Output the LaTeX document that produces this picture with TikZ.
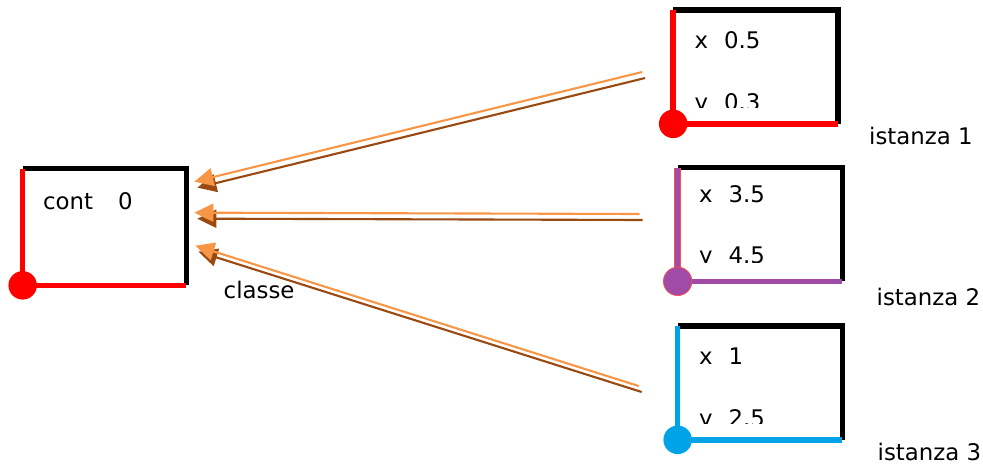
\documentclass[tikz,border=0pt]{standalone}
\usepackage{fontspec}
\setmainfont{DejaVu Sans}
\usepackage{xcolor}
\usepackage{tikz}
\usetikzlibrary{arrows.meta, positioning, calc}

\definecolor{arrowfront}{HTML}{F79646}
\definecolor{arrowshadow}{HTML}{9A4A10}
\definecolor{istred}{HTML}{FF0000}
\definecolor{istpurple}{HTML}{A04CA6}
\definecolor{istblue}{HTML}{00A3E8}

\begin{document}
\begin{tikzpicture}[x=0.02cm, y=-0.02cm,
        classbox/.style={rectangle, inner sep=0pt, minimum width=3.26cm, minimum height=2.32cm},
        istbox/.style={rectangle, inner sep=0pt, minimum width=3.28cm, minimum height=2.26cm},
        edge/.style={line width=3.1pt},
        corner/.style={circle, inner sep=0pt, minimum size=0.57cm},
        txt/.style={font=\fontsize{13}{15}\selectfont, inner sep=0pt, anchor=base west},
        link/.style={-{Triangle[length=0.38cm, width=0.36cm]}, line width=1.2pt, arrowfront},
        linkshadow/.style={link, arrowshadow, transform canvas={xshift=0.06cm, yshift=-0.12cm}}
    ]
        \useasboundingbox (0,0) rectangle (983,466);

        % Class
        \node[classbox] (cls) at (104.5,227) {};
        \draw[edge, black] (cls.north west) -- (cls.north east) -- (cls.south east);
        \draw[edge, istred] (cls.north west) -- (cls.south west) -- (cls.south east);
        \node[corner, fill=istred] (clsdot) at (cls.south west) {};
        \node[txt] (cont) at ($(cls.north west)+(20,41)$) {cont\hspace{1.1em}0};
        \node[txt] (classe) at ($(cls.south east)+(37,13)$) {classe};

        % Instance 1
        \node[istbox] (i1) at (755.5,67) {};
        \draw[edge, black] (i1.north west) -- (i1.north east) -- (i1.south east);
        \draw[edge, istred] (i1.north west) -- (i1.south west) -- (i1.south east);
        \node[corner, fill=istred] (i1dot) at (i1.south west) {};
        \node[txt] (x1) at ($(i1.north west)+(21,38)$) {x\hspace{0.7em}0.5};
        \begin{scope}
            \clip (i1.north west) rectangle ($(i1.south east)+(0,-16)$);
            \node[txt] (y1) at ($(i1.north west)+(21,100)$) {y\hspace{0.7em}0.3};
        \end{scope}
        \node[txt] (n1) at ($(i1.south east)+(31,21)$) {istanza 1};

        % Instance 2
        \node[istbox] (i2) at (760,224.5) {};
        \draw[edge, black] (i2.north west) -- (i2.north east) -- (i2.south east);
        \draw[line width=3.7pt, istred!70] (i2.north west) -- (i2.south west);
        \draw[edge, istpurple] (i2.north west) -- (i2.south west) -- (i2.south east);
        \node[corner, fill=istpurple, draw=istred!70, thin] (i2dot) at (i2.south west) {};
        \node[txt] (x2) at ($(i2.north west)+(21,35)$) {x\hspace{0.7em}3.5};
        \begin{scope}
            \clip (i2.north west) rectangle ($(i2.south east)+(0,-19)$);
            \node[txt] (y2) at ($(i2.north west)+(21,96)$) {y\hspace{0.7em}4.5};
        \end{scope}
        \node[txt] (n2) at ($(i2.south east)+(34,24)$) {istanza 2};

        % Instance 3
        \node[istbox] (i3) at (760,383) {};
        \draw[edge, black] (i3.north west) -- (i3.north east) -- (i3.south east);
        \draw[edge, istblue] (i3.north west) -- (i3.south west) -- (i3.south east);
        \node[corner, fill=istblue] (i3dot) at (i3.south west) {};
        \node[txt] (x3) at ($(i3.north west)+(21,38)$) {x\hspace{0.7em}1};
        \begin{scope}
            \clip (i3.north west) rectangle ($(i3.south east)+(0,-16)$);
            \node[txt] (y3) at ($(i3.north west)+(21,100)$) {y\hspace{0.7em}2.5};
        \end{scope}
        \node[txt] (n3) at ($(i3.south east)+(35,21)$) {istanza 3};

        % Links instance -> class
        \coordinate (s1) at ($(i1.west)+(-31,5)$);
        \coordinate (s2) at ($(i2.west)+(-38,-10.5)$);
        \coordinate (s3) at ($(i3.west)+(-39,3)$);
        \coordinate (t1) at ($(cls.north east)+(8,13)$);
        \coordinate (t2) at ($(cls.north east)+(8,44)$);
        \coordinate (t3) at ($(cls.north east)+(9,77)$);
        \foreach \k in {1,2,3} {
            \draw[linkshadow] (s\k) -- (t\k);
            \draw[link] (s\k) -- (t\k);
        }
    \end{tikzpicture}
\end{document}
